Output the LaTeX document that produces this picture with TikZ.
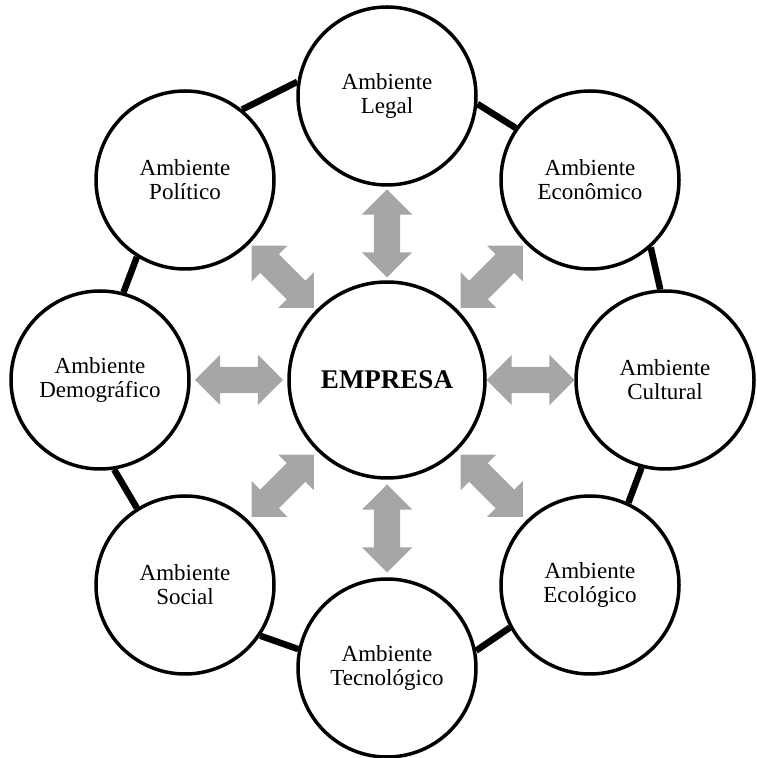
\documentclass[tikz,border=0pt]{standalone}
\usepackage{fontspec}
\setmainfont{Liberation Serif}
\usetikzlibrary{calc,shapes.arrows}
\definecolor{arrowgray}{RGB}{166,166,166}
\tikzset{
  env/.style={circle, draw, line width=3.5pt, minimum size=178pt, inner sep=0pt, align=center, font=\fontsize{23}{24}\selectfont},
  link/.style={line width=6.5pt},
  twoway/.style={double arrow, fill=arrowgray, draw=none, inner xsep=0pt, inner ysep=13pt, double arrow head extend=12pt, minimum height=88pt}
}
\begin{document}
\begin{tikzpicture}[x=1pt,y=1pt]
\useasboundingbox (0,0) rectangle (756,758);

% company
\node [env, minimum size=196pt, font=\fontsize{27}{29}\selectfont\bfseries] (emp) at (387,378) {EMPRESA};

% environments
\node [env] (leg) at (387,662) {Ambiente\\Legal};
\node [env] (eco) at (590,578) {Ambiente\\Econômico};
\node [env] (cul) at (665,378) {Ambiente\\Cultural};
\node [env] (ecl) at (590,173) {Ambiente\\Ecológico};
\node [env] (tec) at (387,90) {Ambiente\\Tecnológico};
\node [env] (soc) at (185,173) {Ambiente\\Social};
\node [env] (dem) at (100,378) {Ambiente\\Demográfico};
\node [env] (pol) at (185,578) {Ambiente\\Político};

% ring
\draw [link] (pol.51) -- (leg.171);
\draw [link] (leg.-5) -- (eco.145);
\draw [link] (eco.-48) -- (cul.93);
\draw [link] (cul.255) -- (ecl.65);
\draw [link] (ecl.208) -- (tec.11);
\draw [link] (tec.168) -- (soc.-34);
\draw [link] (soc.122) -- (dem.-81);
\draw [link] (dem.75) -- (pol.238);

% two-way arrows
\node [twoway, rotate=90] (a1) at ($(emp.90)!0.5!(leg.270)$) {};
\node [twoway, rotate=45] (a2) at ($(emp.45)!0.5!(eco.225)$) {};
\node [twoway] (a3) at ($(emp.0)!0.5!(cul.180)$) {};
\node [twoway, rotate=-45] (a4) at ($(emp.-45)!0.5!(ecl.135)$) {};
\node [twoway, rotate=90] (a5) at ($(emp.270)!0.5!(tec.90)$) {};
\node [twoway, rotate=45] (a6) at ($(emp.225)!0.5!(soc.45)$) {};
\node [twoway] (a7) at ($(emp.180)!0.5!(dem.0)$) {};
\node [twoway, rotate=-45] (a8) at ($(emp.135)!0.5!(pol.-45)$) {};

\end{tikzpicture}
\end{document}
